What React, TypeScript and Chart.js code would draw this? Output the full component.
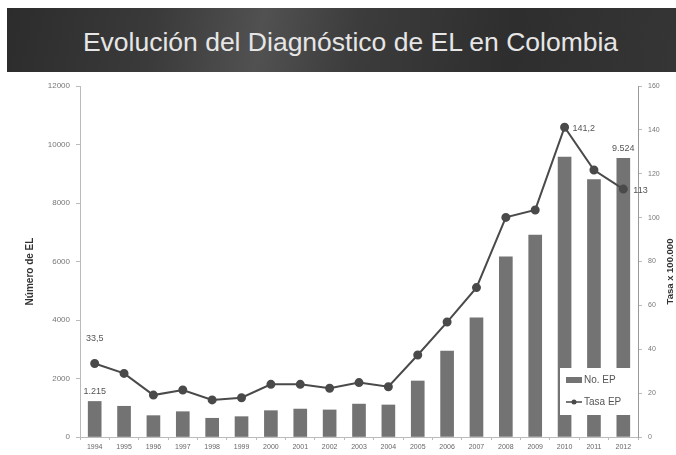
import React, { useEffect, useRef } from "react";
import { Chart, registerables } from "chart.js";

Chart.register(...registerables);

const years = ["1994","1995","1996","1997","1998","1999","2000","2001","2002","2003","2004","2005","2006","2007","2008","2009","2010","2011","2012"];
const casosEP = [1215, 1050, 730, 865, 640, 695, 900, 955, 925, 1125, 1095, 1915, 2940, 4070, 6160, 6900, 9570, 8800, 9524];
const tasaEP = [33.5, 29.0, 19.1, 21.4, 16.9, 17.9, 24.0, 24.0, 22.2, 24.8, 22.9, 37.4, 52.4, 68.1, 100.1, 103.5, 141.2, 121.7, 113];
const leftTicks = [0, 2000, 4000, 6000, 8000, 10000, 12000];
const rightTicks = [0, 20, 40, 60, 80, 100, 120, 140, 160];
// data labels: [seriesIndex, pointIndex, text, placement]
const dataLabels: [number, number, string, string][] = [
  [0, 0, "33,5", "above"],
  [1, 0, "1.215", "above"],
  [0, 16, "141,2", "right"],
  [1, 18, "9.524", "above"],
  [0, 18, "113", "right"],
];

const FONT = "'Liberation Sans', Arial, sans-serif";
const BAR = "#737373";
const LINE = "#4a4a4a";

const overlayPlugin = {
  id: "overlay",
  afterDatasetsDraw(chart: any) {
    const ctx = chart.ctx;
    const ca = chart.chartArea;
    ctx.save();
    // data labels
    ctx.font = `9px ${FONT}`;
    ctx.fillStyle = "#555";
    ctx.textBaseline = "middle";
    dataLabels.forEach(([ds, i, text, place]) => {
      const el = chart.getDatasetMeta(ds).data[i];
      if (!el) return;
      if (place === "above") {
        ctx.textAlign = "center";
        const off = ds === 0 ? 25 : 10;
        ctx.fillText(text, el.x, el.y - off);
      } else {
        ctx.textAlign = "left";
        ctx.fillText(text, el.x + (i === 18 ? 10 : 8), el.y + 1);
      }
    });
    // legend box
    const bx = ca.right - 78;
    const by = ca.bottom - 69;
    ctx.fillStyle = "#fff";
    ctx.fillRect(bx, by, 72, 47);
    ctx.fillStyle = BAR;
    ctx.fillRect(bx + 6, by + 9, 16, 6);
    ctx.font = `10px ${FONT}`;
    ctx.fillStyle = "#555";
    ctx.textAlign = "left";
    ctx.textBaseline = "middle";
    ctx.fillText("No. EP", bx + 24, by + 12);
    ctx.strokeStyle = LINE;
    ctx.lineWidth = 1.5;
    ctx.beginPath();
    ctx.moveTo(bx + 6, by + 34);
    ctx.lineTo(bx + 22, by + 34);
    ctx.stroke();
    ctx.fillStyle = LINE;
    ctx.beginPath();
    ctx.arc(bx + 14, by + 34, 2.5, 0, Math.PI * 2);
    ctx.fill();
    ctx.fillStyle = "#555";
    ctx.fillText("Tasa EP", bx + 24, by + 34);
    // axis titles
    ctx.font = `bold 10px ${FONT}`;
    ctx.fillStyle = "#333";
    ctx.textAlign = "center";
    const cy = (ca.top + ca.bottom) / 2 + 10;
    ctx.translate(30, cy);
    ctx.rotate(-Math.PI / 2);
    ctx.fillText("Número de EL", 0, 0);
    ctx.rotate(Math.PI / 2);
    ctx.translate(-30, -cy);
    ctx.font = `bold 9.5px ${FONT}`;
    ctx.translate(chart.width - 6, cy);
    ctx.rotate(-Math.PI / 2);
    ctx.fillText("Tasa x 100.000", 0, 0);
    ctx.restore();
  },
};

export default function App() {
  const ref = useRef<HTMLCanvasElement | null>(null);

  useEffect(() => {
    document.body.style.margin = "0";
    if (!ref.current) return;
    const chart = new Chart(ref.current, {
      data: {
        labels: years,
        datasets: [
          {
            type: "line",
            label: "Tasa EP",
            data: tasaEP,
            yAxisID: "y1",
            borderColor: LINE,
            backgroundColor: LINE,
            borderWidth: 2,
            pointRadius: 3.5,
            pointBackgroundColor: LINE,
            pointBorderColor: LINE,
            tension: 0,
            order: 0,
          } as any,
          {
            type: "bar",
            label: "No. EP",
            data: casosEP,
            yAxisID: "y",
            backgroundColor: BAR,
            barThickness: 13,
            order: 1,
          } as any,
        ],
      },
      options: {
        animation: false,
        responsive: false,
        maintainAspectRatio: false,
        layout: { padding: { top: 11, left: 0, right: 0, bottom: 0 } },
        plugins: { legend: { display: false }, tooltip: { enabled: false } },
        scales: {
          x: {
            grid: { drawOnChartArea: false, tickLength: 3, color: "#bbb" },
            border: { color: "#bbb" },
            ticks: { font: { size: 7, family: FONT }, color: "#666", padding: 3, maxRotation: 0, autoSkip: false },
            afterFit: (s: any) => { s.height = 18; },
          },
          y: {
            position: "left",
            min: 0,
            max: 12000,
            afterBuildTicks: (s: any) => { s.ticks = leftTicks.map((v) => ({ value: v })); },
            grid: { drawOnChartArea: false, tickLength: 4, color: "#bbb" },
            border: { color: "#bbb" },
            ticks: { font: { size: 8, family: FONT }, color: "#777", padding: 6, callback: (v: any) => String(v) },
            afterFit: (s: any) => { s.width = 80; },
          },
          y1: {
            position: "right",
            min: 0,
            max: 160,
            afterBuildTicks: (s: any) => { s.ticks = rightTicks.map((v) => ({ value: v })); },
            grid: { drawOnChartArea: false, tickLength: 4, color: "#bbb" },
            border: { color: "#999" },
            ticks: { font: { size: 7, family: FONT }, color: "#777", padding: 6, callback: (v: any) => String(v) },
            afterFit: (s: any) => { s.width = 38; },
          },
        },
      },
      plugins: [overlayPlugin],
    });
    return () => chart.destroy();
  }, []);

  return (
    <div style={{ position: "relative", width: 676, height: 455, background: "#fff", overflow: "hidden" }}>
      <div
        style={{
          position: "absolute",
          left: 7,
          top: 8,
          width: 669,
          height: 64,
          background:
            "linear-gradient(100deg, #2c2c2c 0%, #3a3a3a 22%, #515151 38%, #3c3c3c 52%, #2e2e2e 75%, #353535 100%)",
          color: "#e6e6e6",
          fontFamily: FONT,
          fontSize: 26.5,
          display: "flex",
          alignItems: "center",
          justifyContent: "center",
          paddingLeft: 18,
          paddingTop: 4,
          boxSizing: "border-box",
        }}
      >
        Evolución del Diagnóstico de EL en Colombia
      </div>
      <canvas
        ref={ref}
        width={676}
        height={380}
        style={{ position: "absolute", left: 0, top: 75, width: 676, height: 380 }}
      />
    </div>
  );
}
